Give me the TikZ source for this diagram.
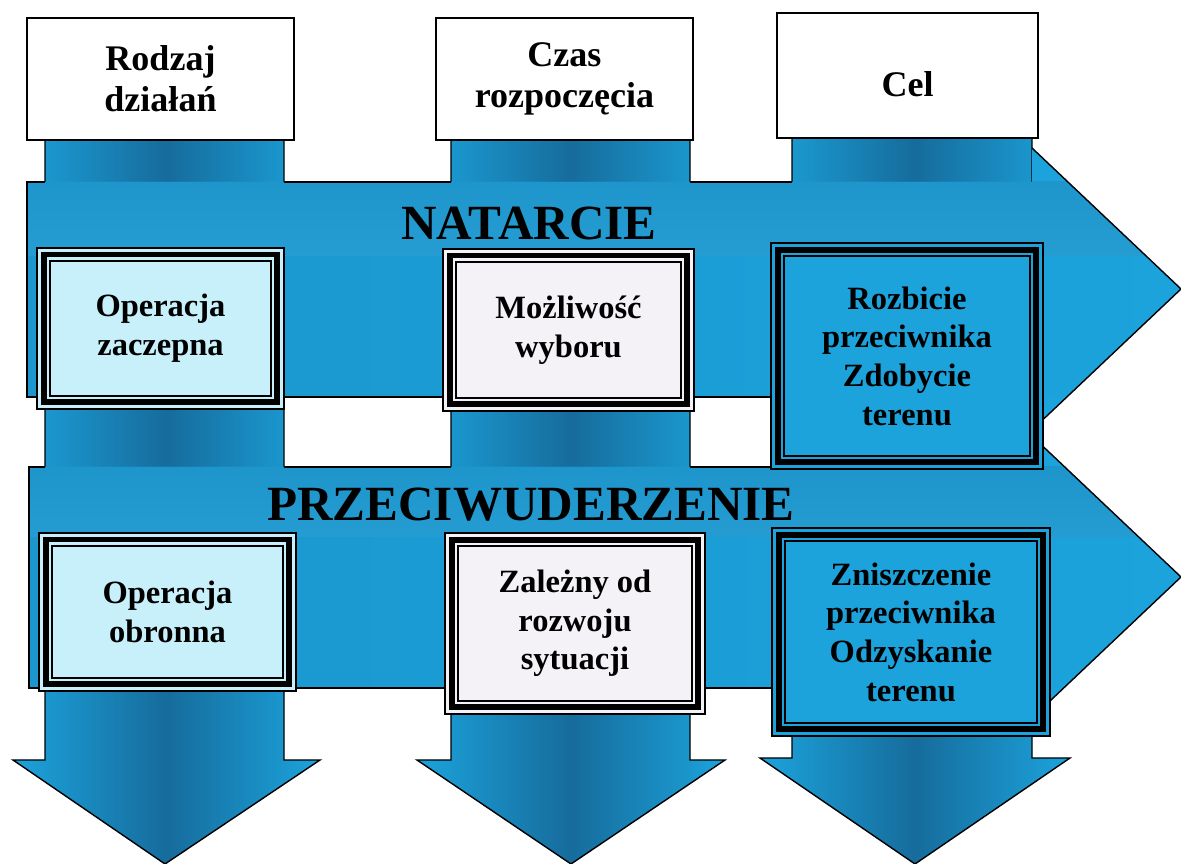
\documentclass[tikz,border=0pt]{standalone}
\usepackage{fontspec}
\setmainfont{Liberation Serif}
\definecolor{niebieski}{RGB}{28,163,220}
\definecolor{ciemny}{RGB}{22,108,156}
\definecolor{jasny}{RGB}{200,240,250}
\definecolor{bialy}{RGB}{244,241,247}
\begin{document}
\begin{tikzpicture}[x=0.02cm,y=-0.02cm,line join=miter,font=\bfseries,
	pion/.style={draw=black,line width=0.8pt,left color=niebieski,right color=niebieski,middle color=ciemny},
	poziom/.style={fill=niebieski},
	kontur/.style={draw=black,line width=0.8pt},
	naglowek/.style={draw=black,line width=0.9pt,fill=white,align=center,font=\bfseries\fontsize{20.5}{23.5}\selectfont},
	ramka/.style={fill=#1,draw=black,line width=8.5pt,postaction={draw=#1,line width=6.2pt},postaction={draw=black,line width=3.4pt},align=center,font=\bfseries\fontsize{18.5}{22}\selectfont},
	tytul/.style={font=\bfseries\fontsize{28}{30}\selectfont,anchor=base}]
	\useasboundingbox (0,0) rectangle (1181,864);
	
	\draw[pion] (45,135)--(284,135)--(284,760)--(320,760)--(165,864)--(13,760)--(45,760)--cycle;
	\draw[pion] (451,135)--(690,135)--(690,760)--(725,760)--(571,864)--(417,760)--(451,760)--cycle;
	\draw[pion] (792,135)--(1032,135)--(1032,758)--(1070,758)--(915,864)--(760,758)--(792,758)--cycle;
	
	\fill[poziom,path picture={\shade[top color=niebieski!70!ciemny,bottom color=niebieski!88!white] (27,182) rectangle (1181,257);
		\shade[left color=niebieski!78!ciemny,right color=niebieski] (27,257) rectangle (1181,397);}]
		(27,182)--(1032,182)--(1032,148)--(1181,289)--(1032,430)--(1032,397)--(27,397)--cycle;
	\draw[kontur] (45,182)--(27,182)--(27,397)--(45,397);
	\draw[kontur] (284,182)--(451,182) (690,182)--(792,182) (284,397)--(451,397) (690,397)--(792,397);
	\draw[kontur] (1032,148)--(1181,289)--(1032,430);
	
	\fill[poziom,path picture={\shade[top color=niebieski!70!ciemny,bottom color=niebieski!88!white] (29,467) rectangle (1181,538);
		\shade[left color=niebieski!78!ciemny,right color=niebieski] (29,538) rectangle (1181,688);}]
		(29,467)--(1032,467)--(1032,436)--(1181,577)--(1032,718)--(1032,688)--(29,688)--cycle;
	\draw[kontur] (45,467)--(29,467)--(29,688)--(45,688);
	\draw[kontur] (284,467)--(451,467) (690,467)--(792,467) (284,688)--(451,688) (690,688)--(792,688);
	\draw[kontur] (1032,436)--(1181,577)--(1032,718);
	
	\node[tytul] (natarcie) at (529,240) {NATARCIE};
	\node[tytul] (przeciw) at (531,521) {PRZECIWUDERZENIE};
	
	\node[ramka=jasny,minimum width=4.68cm,minimum height=2.96cm] (zaczepna) at (160.5,328.5) {Operacja\\zaczepna};
	\node[ramka=bialy,minimum width=4.76cm,minimum height=2.98cm] (wybor) at (568.5,330) {Możliwość\\wyboru};
	\node[ramka=niebieski,minimum width=5.18cm,minimum height=4.26cm] (rozbicie) at (907,356) {Rozbicie\\przeciwnika\\Zdobycie\\terenu};
	\node[ramka=jasny,minimum width=4.88cm,minimum height=2.9cm] (obronna) at (167.5,612) {Operacja\\obronna};
	\node[ramka=bialy,minimum width=4.94cm,minimum height=3.36cm] (zalezny) at (575,623.5) {Zależny od\\rozwoju\\sytuacji};
	\node[ramka=niebieski,minimum width=5.3cm,minimum height=3.9cm] (zniszczenie) at (911,632) {Zniszczenie\\przeciwnika\\Odzyskanie\\terenu};
	
	\node[naglowek,minimum width=5.34cm,minimum height=2.44cm] (rodzaj) at (160.5,79) {Rodzaj\\działań};
	\node[naglowek,minimum width=5.14cm,minimum height=2.44cm] (czas) at (564.5,79) {Czas\\rozpoczęcia};
	\node[naglowek,minimum width=5.22cm,minimum height=2.5cm,text height=0.86cm] (cel) at (907.5,75.5) {Cel};
\end{tikzpicture}
\end{document}
